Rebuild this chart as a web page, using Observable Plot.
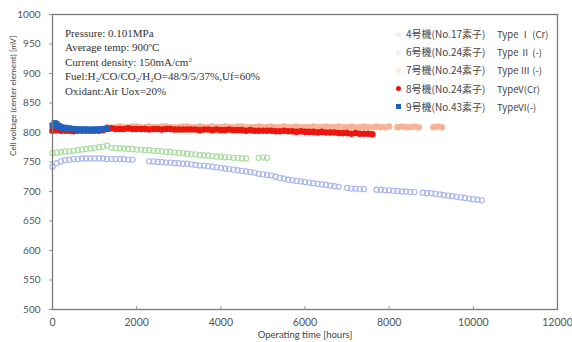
<!DOCTYPE html>
<html><head><meta charset="utf-8">
<script src="https://cdn.jsdelivr.net/npm/d3@7"></script>
<script src="https://cdn.jsdelivr.net/npm/@observablehq/plot@0.6"></script>
<style>
body{margin:0;background:#fff;}
#wrap{position:relative;width:572px;height:342px;overflow:hidden;background:#fff;}
#note{position:absolute;left:65px;top:26px;font-family:"Liberation Serif","Times New Roman",serif;font-size:11px;color:#333;line-height:14.4px;white-space:nowrap;}
#note sub{font-size:7px;vertical-align:-2px;line-height:0;}
#note sup{font-size:7px;vertical-align:4px;line-height:0;}
#legend{position:absolute;left:393px;top:28px;width:170px;height:100px;font-family:"Noto Sans CJK JP",sans-serif;font-size:10px;color:#444;}
.row{position:absolute;left:0;height:12px;line-height:12px;white-space:nowrap;}
.mk{position:absolute;left:3px;top:3.5px;width:5px;height:5px;border-radius:50%;}
.nm{position:absolute;left:13px;top:0;}
.tp{position:absolute;left:104px;top:0;font-size:9.5px;}
</style></head><body><div id="wrap"></div>
<script>
const xTicks = [0, 2000, 4000, 6000, 8000, 10000, 12000];
const yTicks = [500, 550, 600, 650, 700, 750, 800, 850, 900, 950, 1000];

// 4号機 Type I (Cr)
const s4Hours = [0,100,200,300,400,500,600,700,800,900,1000,1100,1200,1300,1400,1500,1600,1700,1800,1900,
  2300,2400,2500,2600,2700,2800,2900,3000,3100,3200,3300,3400,3500,3600,3700,3800,3900,4000,4100,4200,4300,4400,4500,4600,4700,4800,4900,5000,5100,5200,5300,5400,5500,5600,5700,5800,5900,6000,6100,6200,6300,6400,6500,6600,6700,6800,
  7000,7100,7200,7300,7400,
  7700,7800,7900,8000,8100,8200,8300,8400,8500,8600,
  8800,8900,9000,9100,9200,9300,9400,9500,9600,9700,9800,9900,10000,10100,10200];
const s4Volt = [742,748,751,753,754,755,755,756,756,756,756,756,756,755,755,755,755,755,754,754,
  751,751,750,750,749,749,748,748,747,747,746,745,744,744,743,742,741,740,739,738,737,736,735,734,733,732,730,729,728,727,725,723,722,720,719,718,717,716,715,714,713,712,711,710,709,708,
  706,705,705,704,704,
  703,703,702,702,701,701,700,700,699,699,
  698,697,697,696,695,694,693,692,691,690,689,688,687,686,685];

// 6号機 Type II (-)
const s6Hours = [0,100,200,300,400,500,600,700,800,900,1000,1100,1200,1300,
  1400,1500,1600,1700,1800,1900,2000,2100,2200,2300,2400,2500,2600,2700,2800,2900,3000,3100,3200,3300,3400,3500,3600,3700,3800,3900,4000,4100,4200,4300,4400,4500,4600,
  4900,5000,5100];
const s6Volt = [765,766,767,768,768,769,770,771,772,773,774,775,776,778,
  774,774,773,773,772,772,771,771,770,770,769,769,768,767,767,766,765,765,764,763,763,762,761,761,760,759,759,758,758,757,757,756,756,
  757,758,757];

// 7号機 Type III (-)
const s7Hours = [1300,1400,1500,1600,1700,1800,1900,2000,2100,2200,2300,2400,2500,2600,2700,2800,2900,3000,3100,3200,3300,3400,3500,3600,3700,3800,3900,4000,4100,4200,4300,4400,4500,4600,4700,4800,4900,5000,5100,5200,5300,5400,5500,5600,5700,5800,5900,6000,6100,6200,6300,6400,6500,6600,6700,6800,6900,7000,7100,7200,7300,7400,7500,7600,7700,7800,7900,8000,
  8200,8300,8400,8500,8600,8700,
  9050,9150,9250];
const s7Volt = [809,808,809,810,809,809,810,810,809,809,
  810,809,809,810,810,809,809,809,810,810,
  809,809,810,809,809,810,809,809,810,809,
  809,810,810,809,809,809,810,809,809,810,
  809,809,810,809,809,810,809,809,809,810,
  809,809,810,809,809,810,809,809,810,809,
  809,810,809,809,810,809,809,810,
  809,810,809,809,810,809,
  809,810,809];

// 8号機 TypeV (Cr)
const s8Hours = [0,100,200,300,400,500,600,700,800,900,1000,1100,1200,1300,1400,1500,1600,1700,1800,1900,2000,2100,2200,2300,2400,2500,2600,2700,2800,2900,3000,3100,3200,3300,3400,3500,3600,3700,3800,3900,4000,4100,4200,4300,4400,4500,4600,4700,4800,4900,5000,5100,5200,5300,5400,5500,5600,5700,5800,5900,6000,6100,6200,6300,6400,6500,6600,6700,6800,6900,7000,7100,7200,7300,7400,7500,7600];
const s8Volt = [803,804,803,803,803,802,803,803,803,803,803,803,804,
  807,807,806,806,806,807,806,806,806,806,805,806,806,805,806,806,805,805,
  805,805,805,805,804,805,805,804,805,804,804,805,804,804,804,803,804,803,803,803,
  803,803,802,802,803,802,802,801,802,801,801,801,800,801,800,
  800,800,799,799,799,798,799,798,798,798,797];

// 9号機 TypeVI (-)
const s9Hours = [0,50,100,150,200,250,300,350,400,450,500,550,600,650,700,750,800,850,900,950,1000,1050,1100,1150,1200,1250,1300];
const s9Volt = [812,816,814,811,809,808,808,807,807,806,806,805,805,805,805,805,805,805,804,805,805,805,805,805,806,806,806];

const legendNames = ["4号機(No.17素子)", "6号機(No.24素子)", "7号機(No.24素子)", "8号機(No.24素子)", "9号機(No.43素子)"];
const legendTypes = ["Type Ⅰ (Cr)", "Type Ⅱ (-)", "Type Ⅲ (-)", "TypeV(Cr)", "TypeVI(-)"];
const legendColors = ["#eceef7", "#e6f3e8", "#fbe4dc", "#e8140c", "#1f63c0"];

const noteLines = [
  "Pressure: 0.101MPa",
  "Average temp: 900ºC",
  "Current density: 150mA/cm<sup>2</sup>",
  "Fuel:H<sub>2</sub>/CO/CO<sub>2</sub>/H<sub>2</sub>O=48/9/5/37%,Uf=60%",
  "Oxidant:Air Uox=20%"
];

const toRows = (hs, vs) => hs.map((h, i) => ({h, v: vs[i]}));
const d4 = toRows(s4Hours, s4Volt);
const d6 = toRows(s6Hours, s6Volt);
const d7 = toRows(s7Hours, s7Volt);
const d8 = toRows(s8Hours, s8Volt);
const d9 = toRows(s9Hours, s9Volt);

const chart = Plot.plot({
  width: 572, height: 342,
  marginLeft: 52, marginRight: 15, marginTop: 14, marginBottom: 33,
  style: {fontFamily: "Lato, 'Open Sans', sans-serif", fontSize: "10px", color: "#555", background: "#fff"},
  x: {domain: [0, 12000]},
  y: {domain: [500, 1000]},
  marks: [
    Plot.axisX({ticks: xTicks, tickSize: 0, tickPadding: 9, tickFormat: d => String(d), label: null, fontSize: 10.5}),
    Plot.axisX({ticks: xTicks, tickSize: -3, tickFormat: () => "", label: null, stroke: "#999"}),
    Plot.axisY({ticks: yTicks, tickSize: 3, tickPadding: 9, tickFormat: d => String(d), label: null, stroke: "#999"}),
    Plot.text(["Operating time [hours]"], {frameAnchor: "bottom", dy: 28, fontSize: 9.5, fill: "#444"}),
    Plot.text(["Cell voltage (center element) [mV]"], {frameAnchor: "left", dx: -39, dy: -6, rotate: -90, fontSize: 8.2, fill: "#444"}),
    Plot.dot(d4, {x: "h", y: "v", r: 2.6, stroke: "#a9b5ee", strokeWidth: 1.1, fill: "none"}),
    Plot.dot(d6, {x: "h", y: "v", r: 2.6, stroke: "#a6dd9c", strokeWidth: 1.1, fill: "none"}),
    Plot.dot(d7, {x: "h", y: "v", r: 3.3, fill: "#f6b293", stroke: "none"}),
    Plot.dot(d8, {x: "h", y: "v", r: 3.3, fill: "#ea150d", stroke: "none"}),
    Plot.dot(d9, {x: "h", y: "v", r: 3.4, symbol: "square", fill: "#1f63c0", stroke: "none"}),
    Plot.frame({stroke: "#7a7a7a", strokeWidth: 1.3})
  ]
});

const wrap = document.getElementById("wrap");
wrap.appendChild(chart);

const note = document.createElement("div");
note.id = "note";
note.innerHTML = noteLines.map(t => `<div>${t}</div>`).join("");
wrap.appendChild(note);

const legend = document.createElement("div");
legend.id = "legend";
legendNames.forEach((n, i) => {
  const row = document.createElement("div");
  row.className = "row";
  row.style.top = (i * 18.2) + "px";
  const mk = document.createElement("span");
  mk.className = "mk";
  mk.style.background = legendColors[i];
  if (i === 4) mk.style.borderRadius = "0";
  const nm = document.createElement("span");
  nm.className = "nm"; nm.textContent = n;
  const tp = document.createElement("span");
  tp.className = "tp"; tp.textContent = legendTypes[i];
  row.append(mk, nm, tp);
  legend.appendChild(row);
});
wrap.appendChild(legend);
</script>
</body></html>
